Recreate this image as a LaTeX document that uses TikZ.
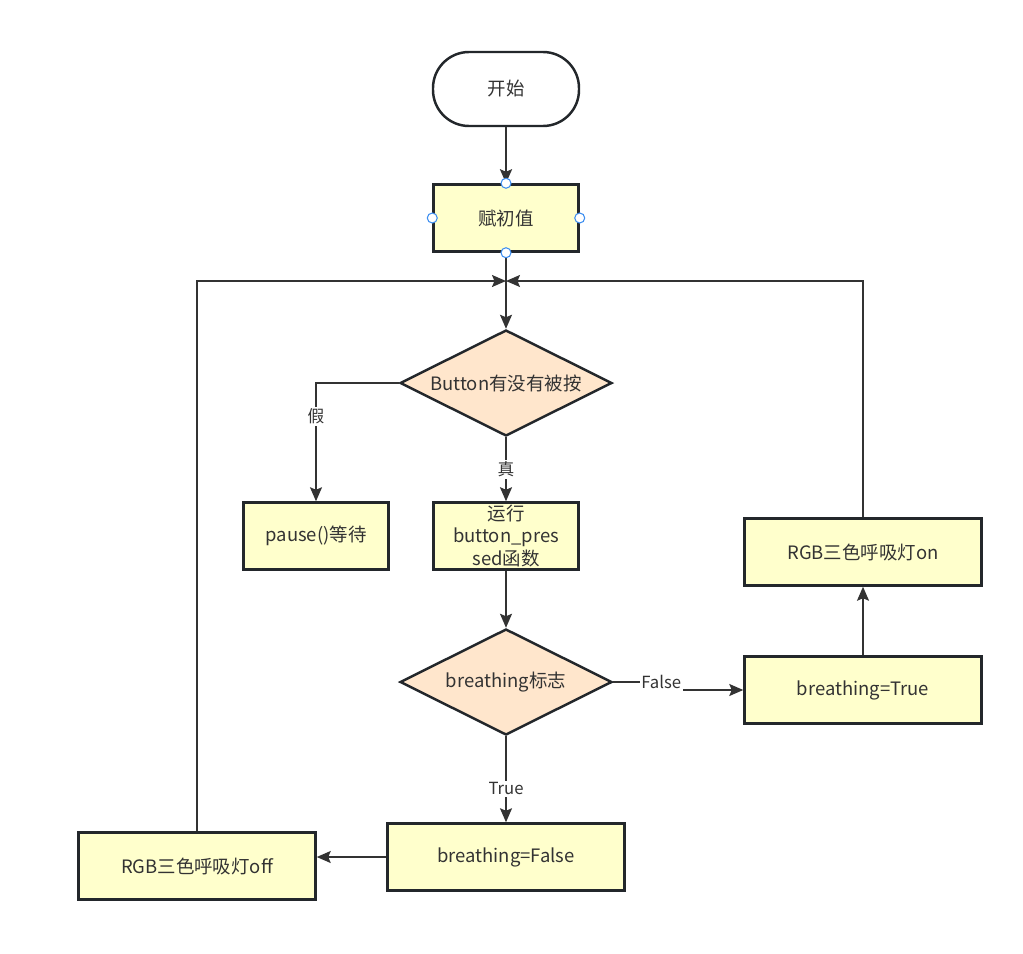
\documentclass[tikz,border=0pt]{standalone}
\usepackage{fontspec}
\setmainfont{Noto Sans CJK SC}
\usetikzlibrary{shapes.geometric,arrows.meta,positioning}
\definecolor{boxfill}{HTML}{FFFFCC}
\definecolor{decfill}{HTML}{FFE6CC}
\definecolor{edgecol}{HTML}{333333}
\definecolor{bordercol}{HTML}{23272B}
\definecolor{handlecol}{HTML}{3D8EF0}

\begin{document}
\begin{tikzpicture}[->,>={Stealth[length=2.8mm,width=2.4mm,inset=0.5mm]},
                    line width=0.9pt,color=edgecol,font=\fontsize{10.5}{13}\selectfont,
    proc/.style={draw=bordercol,line width=1.4pt,fill=boxfill,minimum width=2.9cm,
                 minimum height=1.34cm,align=center,inner sep=1pt},
    wide/.style={proc,minimum width=4.74cm},
    dec/.style={diamond,aspect=2,draw=bordercol,line width=1.4pt,fill=decfill,
                minimum width=4.24cm,minimum height=2.12cm,inner sep=0pt},
    term/.style={rectangle,rounded corners=0.72cm,draw=bordercol,line width=1.4pt,
                 fill=white,minimum width=2.92cm,minimum height=1.48cm},
    lbl/.style={fill=white,inner sep=1pt,font=\fontsize{9.5}{11}\selectfont},
    handle/.style={circle,draw=handlecol,fill=white,line width=0.6pt,
                   minimum size=0.2cm,inner sep=0pt}]
  \useasboundingbox (0,0) rectangle (20.46,-19.08);

  % main column
  \node[term] (start) at (10.12,-1.78) {开始};
  \node[proc] (init) [node distance=2.58cm,below of=start] {赋初值};
  \coordinate[node distance=1.26cm,below of=init] (merge);
  \node[dec] (btn) [node distance=3.3cm,below of=init] {Button有没有被按};
  \node[proc] (run) [node distance=3.06cm,below of=btn] {运行\\button\_pres\\sed函数};
  \node[proc] (pause) [node distance=3.8cm,left of=run] {pause()等待};
  \node[dec] (flag) [node distance=2.92cm,below of=run] {breathing标志};
  \node[wide] (bfalse) [node distance=3.5cm,below of=flag] {breathing=False};
  \node[wide] (off) [node distance=6.18cm,left of=bfalse,yshift=-0.18cm] {RGB三色呼吸灯off};
  \node[wide] (btrue) [node distance=7.14cm,right of=flag,yshift=-0.16cm] {breathing=True};
  \node[wide] (on) [node distance=2.76cm,above of=btrue] {RGB三色呼吸灯on};

  \draw[line width=1.3pt] (start) -- (init);
  \draw (init) -- (btn);
  \draw (btn.west) -| node[lbl,pos=0.64] {假} (pause.north);
  \draw[line width=1.1pt] (btn) -- node[lbl] {真} (run);
  \draw (run) -- (flag);
  \draw (flag.east) -- ++(0.96,0) node[lbl] {False} |- (btrue.west);
  \draw (flag) -- node[lbl,pos=0.61] {True} (bfalse);
  \draw (bfalse.west) -- (bfalse.west -| off.east);
  \draw (btrue) -- (on);
  \draw (on.north) |- (merge);
  \draw (off.north) |- (merge);

  % selection handles
  \node[handle] (hn) at (init.north) {};
  \node[handle] (hs) at (init.south) {};
  \node[handle] (hw) at (init.west) {};
  \node[handle] (he) at (init.east) {};
\end{tikzpicture}
\end{document}
